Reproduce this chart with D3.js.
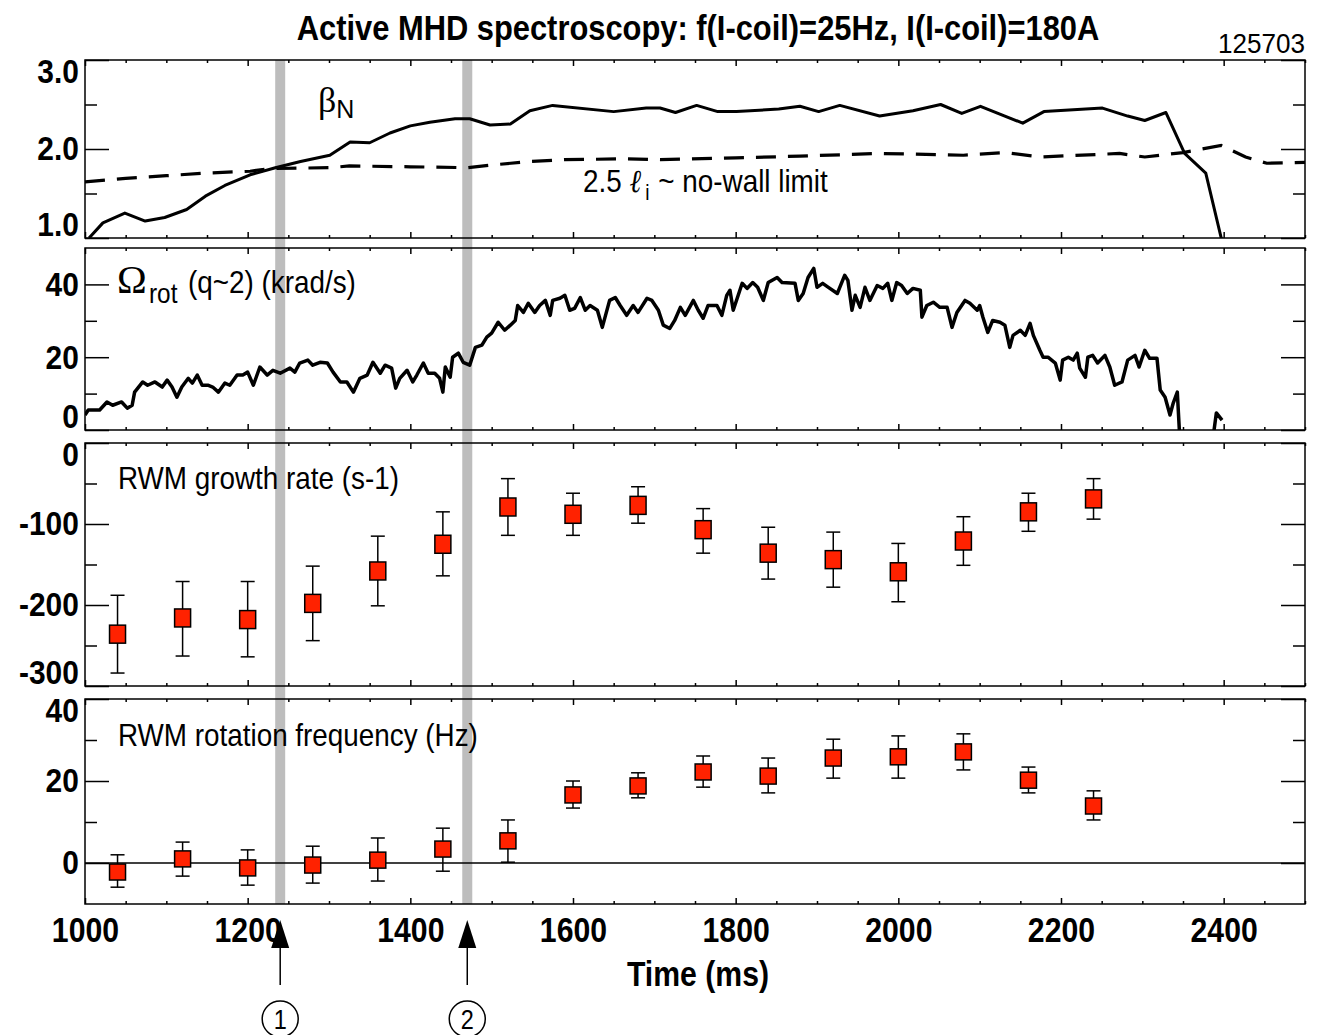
<!DOCTYPE html>
<html>
<head>
<meta charset="utf-8">
<script src="https://cdn.jsdelivr.net/npm/d3@7"></script>
<style>
  body { margin: 0; background: #fff; }
  svg { display: block; }
</style>
</head>
<body>
<div id="chart"></div>
<script>
'use strict';
// ---- data ----
// beta_N (solid) and 2.5 li (dashed), [time ms, value]
var betaN = [[1005,1.00],[1022,1.17],[1049,1.28],[1074,1.19],[1098,1.23],[1125,1.32],[1148,1.47],[1172,1.59],
  [1203,1.71],[1234,1.79],[1265,1.86],[1301,1.93],[1326,2.08],[1350,2.07],[1375,2.18],[1400,2.26],[1424,2.30],
  [1455,2.34],[1473,2.34],[1498,2.27],[1523,2.28],[1547,2.43],[1575,2.49],[1650,2.42],[1690,2.46],[1707,2.46],
  [1726,2.41],[1752,2.49],[1778,2.42],[1801,2.42],[1853,2.45],[1879,2.48],[1902,2.42],[1928,2.49],[1977,2.37],
  [2018,2.43],[2052,2.50],[2078,2.40],[2101,2.48],[2153,2.29],[2179,2.42],[2251,2.46],[2282,2.37],[2303,2.32],
  [2329,2.41],[2352,1.95],[2378,1.73],[2397,1.00],[2400,0.90]];
var noWallLimit = [[1000,1.63],[1050,1.67],[1100,1.70],[1150,1.73],[1203,1.75],[1227,1.78],[1301,1.79],[1325,1.81],
  [1400,1.80],[1470,1.79],[1500,1.82],[1547,1.86],[1589,1.88],[1666,1.89],[1707,1.88],[1800,1.90],[1879,1.92],
  [1977,1.95],[2080,1.93],[2132,1.96],[2174,1.91],[2272,1.95],[2303,1.91],[2350,1.96],[2397,2.04],[2427,1.91],
  [2453,1.84],[2500,1.85]];
// plasma rotation at q~2 (krad/s); null = no data
var omegaRot = [[1000,4.1],[1004,5.5],[1018,5.5],[1027,7.7],[1034,6.8],[1045,7.7],[1052,6.0],[1058,6.8],[1061,10.4],
  [1071,13.2],[1077,12.3],[1086,13.2],[1095,11.8],[1101,13.7],[1107,11.8],[1113,9.0],[1119,11.8],[1127,14.2],
  [1132,12.9],[1138,15.1],[1144,12.3],[1151,12.3],[1157,11.8],[1164,10.4],[1172,12.9],[1178,12.3],[1187,15.1],
  [1194,15.1],[1200,15.9],[1207,12.3],[1215,17.3],[1224,15.1],[1231,16.4],[1240,15.6],[1252,17.0],[1258,15.9],
  [1264,18.4],[1274,19.2],[1280,17.8],[1289,18.6],[1298,18.4],[1305,15.9],[1314,13.2],[1322,13.2],[1330,10.4],
  [1338,14.2],[1347,15.1],[1354,18.6],[1363,15.6],[1369,17.8],[1377,17.0],[1382,11.5],[1387,14.2],[1396,16.4],
  [1403,13.2],[1408,15.1],[1416,18.4],[1422,15.6],[1430,15.6],[1436,14.2],[1440,10.4],[1443,17.3],[1449,14.5],
  [1452,20.0],[1459,21.1],[1465,18.6],[1473,17.8],[1480,22.7],[1488,23.3],[1494,25.5],[1500,26.6],[1508,29.6],
  [1516,27.4],[1523,28.8],[1529,30.1],[1532,34.2],[1539,32.3],[1545,34.8],[1553,32.3],[1559,34.2],[1566,35.6],
  [1572,31.5],[1575,35.6],[1584,36.2],[1590,37.0],[1596,32.9],[1602,33.4],[1609,36.4],[1615,32.9],[1621,34.2],
  [1630,32.9],[1636,28.2],[1645,35.6],[1652,36.4],[1658,34.2],[1666,31.5],[1674,34.2],[1680,32.3],[1691,36.2],
  [1697,35.6],[1705,32.9],[1711,28.8],[1719,27.9],[1725,30.1],[1732,33.7],[1738,31.5],[1748,35.6],[1754,32.9],
  [1760,30.7],[1766,34.2],[1777,34.2],[1783,31.5],[1789,37.0],[1793,38.4],[1797,32.9],[1808,40.3],[1814,38.9],
  [1821,40.5],[1827,39.2],[1834,35.6],[1840,40.5],[1851,41.9],[1857,40.5],[1873,40.3],[1877,35.6],[1883,37.5],
  [1889,41.9],[1896,44.4],[1900,39.2],[1907,40.3],[1914,39.2],[1925,37.5],[1928,39.2],[1934,42.5],[1938,41.1],
  [1943,32.9],[1947,37.0],[1953,33.7],[1959,39.2],[1965,35.6],[1974,39.7],[1981,38.9],[1987,40.3],[1992,35.6],
  [1998,40.5],[2004,39.7],[2011,37.5],[2018,38.9],[2027,38.4],[2029,31.0],[2035,34.2],[2043,35.1],[2051,33.7],
  [2060,33.7],[2066,28.2],[2072,32.3],[2082,35.6],[2088,34.8],[2097,32.9],[2100,34.2],[2104,31.0],[2110,26.8],
  [2116,30.1],[2125,29.6],[2131,28.8],[2137,22.7],[2141,26.0],[2150,27.4],[2156,26.0],[2162,29.3],[2166,26.0],
  [2174,21.9],[2178,20.0],[2184,20.0],[2193,18.4],[2199,13.7],[2202,19.2],[2209,20.0],[2215,19.2],[2220,21.1],
  [2223,17.0],[2230,14.5],[2233,20.0],[2239,20.5],[2245,18.4],[2254,20.5],[2260,17.3],[2266,12.3],[2275,13.2],
  [2282,19.2],[2291,20.5],[2296,17.3],[2303,21.9],[2309,19.7],[2318,19.7],[2322,11.0],[2328,9.0],[2334,4.1],
  [2338,7.4],[2343,10.4],[2346,-2],[2370,null],[2387,-2],[2391,4.7],[2398,2.7]];
// RWM active spectroscopy points
var rwmTime     = [1040,1120,1200,1280,1360,1440,1520,1600,1680,1760,1840,1920,2000,2080,2160,2240];
var growthRate  = [-236,-216,-218,-198,-158,-125,-79,-88,-77,-107,-136,-144,-159,-121,-85,-69];
var growthLow   = [-284,-263,-264,-244,-201,-164,-114,-114,-99,-136,-168,-178,-196,-151,-109,-94];
var growthHigh  = [-188,-171,-171,-152,-115,-85,-44,-62,-54,-81,-104,-110,-124,-91,-62,-44];
var rotFreq     = [-2.2,1.0,-1.2,-0.5,0.7,3.4,5.4,16.6,18.8,22.2,21.2,25.6,25.9,27.1,20.2,13.9];
var rotFreqLow  = [-5.9,-3.2,-5.4,-4.9,-4.4,-2.0,0.2,13.4,15.9,18.5,17.1,20.7,20.7,22.7,17.1,10.5];
var rotFreqHigh = [2.0,5.1,3.2,4.1,6.1,8.5,10.5,20.0,22.0,26.1,25.6,30.2,31.0,31.5,23.4,17.6];
// marked times (grey bands + arrows)
var markTimes  = [1240, 1470];
var markLabels = ['1', '2'];
var timeTicks  = [1000,1200,1400,1600,1800,2000,2200,2400];

// ---- layout ----
var W = 1319, H = 1035;
var SANS = "'Liberation Sans',Arial,sans-serif";
var SERIF = "'Liberation Serif','DejaVu Serif',serif";
var SX = 0.84;   // squeeze to mimic the narrow Helvetica of the original
var SXL = 0.87;  // same for the plain labels
var left = 85, right = 1305;

var svg = d3.select('#chart').append('svg')
    .attr('width', W).attr('height', H)
    .style('font-family', SANS);

var x = d3.scaleLinear().domain([1000, 2500]).range([left, right]);

var intFmt = function(d) { return String(d); };  // plain hyphen for negatives
var panels = [
  {id: 'beta', top: 60, bottom: 238, domain: [1, 3], major: [1, 2, 3], minor: [1.5, 2.5], fmt: d3.format('.1f')},
  {id: 'omega', top: 248, bottom: 430, domain: [0, 50], major: [0, 20, 40], minor: [10, 30], fmt: intFmt},
  {id: 'growth', top: 443, bottom: 686, domain: [-300, 0], major: [-300, -200, -100, 0], minor: [-250, -150, -50], fmt: intFmt},
  {id: 'freq', top: 699, bottom: 904, domain: [-10, 40], major: [0, 20, 40], minor: [10, 30], fmt: intFmt}
];
panels.forEach(function(p) {
  p.y = d3.scaleLinear().domain(p.domain).range([p.bottom, p.top]);
});

// text helper: squeezed horizontally around its anchor point
function label(parent, tx, ty, size, weight, sx) {
  return parent.append('text')
      .attr('transform', 'translate(' + tx + ',' + ty + ') scale(' + (sx || SX) + ',1)')
      .attr('font-family', SANS)
      .attr('font-size', size)
      .attr('font-weight', weight || 'normal')
      .attr('fill', '#000');
}
// squeeze a text so that it spans exactly w pixels
function fitWidth(t, tx, ty, w) {
  var w0 = t.node().getComputedTextLength();
  t.attr('transform', 'translate(' + tx + ',' + ty + ') scale(' + (w / w0) + ',1)');
  return t;
}

// grey bands behind everything
svg.selectAll('.band')
    .data(markTimes)
  .enter().append('rect')
    .attr('x', function(d) { return x(d) - 5; })
    .attr('y', panels[0].top)
    .attr('width', 10)
    .attr('height', panels[3].bottom - panels[0].top)
    .attr('fill', '#bdbdbd');

var minorX = d3.range(1000, 2501, 50).filter(function(d) { return d % 200 !== 0; });
var majorX = d3.range(1000, 2501, 200);

function tickGroup(parent, tr, axis) {
  parent.append('g').attr('transform', tr).call(axis.tickFormat(''));
}

panels.forEach(function(p, i) {
  var g = svg.append('g');
  var ph = p.bottom - p.top;

  svg.append('clipPath').attr('id', 'clip-' + p.id)
    .append('rect').attr('x', left).attr('y', p.top)
    .attr('width', right - left).attr('height', ph);

  // y ticks: left and right, major long / minor short, pointing inward
  tickGroup(g, 'translate(' + left + ',0)', d3.axisLeft(p.y).tickValues(p.major).tickSize(-24));
  tickGroup(g, 'translate(' + left + ',0)', d3.axisLeft(p.y).tickValues(p.minor).tickSize(-12));
  tickGroup(g, 'translate(' + right + ',0)', d3.axisRight(p.y).tickValues(p.major).tickSize(-24));
  tickGroup(g, 'translate(' + right + ',0)', d3.axisRight(p.y).tickValues(p.minor).tickSize(-12));

  // x ticks at top and bottom of each panel
  tickGroup(g, 'translate(0,' + p.top + ')', d3.axisTop(x).tickValues(majorX).tickSize(-6));
  tickGroup(g, 'translate(0,' + p.top + ')', d3.axisTop(x).tickValues(minorX).tickSize(-3));
  tickGroup(g, 'translate(0,' + p.bottom + ')', d3.axisBottom(x).tickValues(majorX).tickSize(-6));
  tickGroup(g, 'translate(0,' + p.bottom + ')', d3.axisBottom(x).tickValues(minorX).tickSize(-3));

  // y tick labels; the end labels are pulled inside the panel
  var yl = g.append('g').attr('transform', 'translate(' + left + ',0)')
      .call(d3.axisLeft(p.y).tickValues(p.major).tickSize(0).tickPadding(7).tickFormat(p.fmt));

  g.selectAll('.domain').remove();
  g.selectAll('.tick line').attr('stroke', '#000').attr('stroke-width', 1.5);

  yl.selectAll('.tick text')
      .attr('font-family', SANS)
      .attr('font-size', 34)
      .attr('font-weight', 'bold')
      .attr('fill', '#000')
      .attr('transform', function(d) {
        var s = 0;
        if (d === p.domain[1]) s = 12;
        if (d === p.domain[0]) s = -13;
        return 'translate(0,' + s + ') scale(0.88,1)';
      });

  // frame
  g.append('rect')
      .attr('x', left).attr('y', p.top)
      .attr('width', right - left).attr('height', ph)
      .attr('fill', 'none').attr('stroke', '#000').attr('stroke-width', 1.5);

  if (i === 3) {
    var xa = svg.append('g').attr('transform', 'translate(0,' + p.bottom + ')')
        .call(d3.axisBottom(x).tickValues(timeTicks).tickSize(0).tickPadding(12).tickFormat(d3.format('d')));
    xa.select('.domain').remove();
    xa.selectAll('text')
        .attr('font-family', SANS).attr('font-size', 36)
        .attr('font-weight', 'bold').attr('fill', '#000')
        .attr('transform', 'scale(' + SX + ',1)');
  }
});

var pB = panels[0], pO = panels[1], pG = panels[2], pF = panels[3];

// ---- panel 1: beta_N and no-wall limit ----
var lineB = d3.line().x(function(d) { return x(d[0]); }).y(function(d) { return pB.y(d[1]); });
var cB = svg.append('g').attr('clip-path', 'url(#clip-beta)');
cB.append('path').datum(noWallLimit)
    .attr('d', lineB).attr('fill', 'none').attr('stroke', '#000')
    .attr('stroke-width', 3.2).attr('stroke-dasharray', '20,12');
cB.append('path').datum(betaN)
    .attr('d', lineB).attr('fill', 'none').attr('stroke', '#000')
    .attr('stroke-width', 3).attr('stroke-linejoin', 'round');

var tb = svg.append('text').attr('x', 318).attr('y', 112).attr('fill', '#000');
tb.append('tspan').attr('font-family', SERIF).attr('font-size', 36).text('β');
tb.append('tspan').attr('font-family', SANS).attr('font-size', 25).attr('dy', 6).text('N');

var tl = label(svg, 583, 192, 32, 'normal', SXL);
tl.append('tspan').text('2.5 ');
tl.append('tspan').attr('font-family', SERIF).attr('font-style', 'italic').text('ℓ');
tl.append('tspan').attr('font-size', 22).attr('dy', 8).attr('dx', 5).text('i');
tl.append('tspan').attr('dy', -8).attr('dx', 10).text('~ no-wall limit');

// ---- panel 2: rotation ----
var lineO = d3.line()
    .defined(function(d) { return d[1] !== null; })
    .x(function(d) { return x(d[0]); })
    .y(function(d) { return pO.y(d[1]); });
svg.append('g').attr('clip-path', 'url(#clip-omega)')
  .append('path').datum(omegaRot)
    .attr('d', lineO).attr('fill', 'none').attr('stroke', '#000')
    .attr('stroke-width', 3.5).attr('stroke-linejoin', 'round');

svg.append('text').attr('x', 117).attr('y', 293).attr('fill', '#000')
    .attr('font-family', SERIF).attr('font-size', 40).text('Ω');
label(svg, 149, 303, 28, 'normal', SXL).text('rot');
label(svg, 188, 293, 32, 'normal', SXL).text('(q~2) (krad/s)');

// ---- panels 3 & 4: error bars + squares ----
function drawPoints(p, vals, lo, hi, boxH) {
  var g = svg.append('g');
  var pts = rwmTime.map(function(t, i) { return {t: t, v: vals[i], lo: lo[i], hi: hi[i]}; });
  var eb = g.selectAll('.eb').data(pts).enter().append('g')
      .attr('stroke', '#000').attr('stroke-width', 1.5);
  eb.append('line')
      .attr('x1', function(d) { return x(d.t); }).attr('x2', function(d) { return x(d.t); })
      .attr('y1', function(d) { return p.y(d.lo); }).attr('y2', function(d) { return p.y(d.hi); });
  eb.append('line')
      .attr('x1', function(d) { return x(d.t) - 7; }).attr('x2', function(d) { return x(d.t) + 7; })
      .attr('y1', function(d) { return p.y(d.lo); }).attr('y2', function(d) { return p.y(d.lo); });
  eb.append('line')
      .attr('x1', function(d) { return x(d.t) - 7; }).attr('x2', function(d) { return x(d.t) + 7; })
      .attr('y1', function(d) { return p.y(d.hi); }).attr('y2', function(d) { return p.y(d.hi); });
  g.selectAll('.sq').data(pts).enter().append('rect')
      .attr('x', function(d) { return x(d.t) - 8; })
      .attr('y', function(d) { return p.y(d.v) - boxH / 2; })
      .attr('width', 16).attr('height', boxH)
      .attr('fill', '#ff2200').attr('stroke', '#000').attr('stroke-width', 1.5);
}

// zero line in the frequency panel
svg.append('line')
    .attr('x1', left).attr('x2', right)
    .attr('y1', pF.y(0)).attr('y2', pF.y(0))
    .attr('stroke', '#000').attr('stroke-width', 1.5);

drawPoints(pG, growthRate, growthLow, growthHigh, 18);
drawPoints(pF, rotFreq, rotFreqLow, rotFreqHigh, 16);

label(svg, 118, 489, 32, 'normal', SXL).text('RWM growth rate (s-1)');
label(svg, 118, 746, 32, 'normal', SXL).text('RWM rotation frequency (Hz)');

// ---- titles ----
var title = label(svg, 0, 0, 36, 'bold', 1).attr('text-anchor', 'middle')
    .text('Active MHD spectroscopy: f(I-coil)=25Hz, I(I-coil)=180A');
fitWidth(title, 698, 40, 803);
var shot = label(svg, 0, 0, 27, 'normal', 1).attr('text-anchor', 'end').text('125703');
fitWidth(shot, right, 53, 87);
label(svg, 698, 986, 36, 'bold').attr('text-anchor', 'middle').text('Time (ms)');

// ---- arrows and circled numbers ----
var ar = svg.selectAll('.arrow').data(markTimes).enter().append('g');
ar.append('line')
    .attr('x1', function(d) { return x(d); }).attr('x2', function(d) { return x(d); })
    .attr('y1', 946).attr('y2', 985)
    .attr('stroke', '#000').attr('stroke-width', 1.5);
ar.append('path')
    .attr('d', function(d) { var cx = x(d); return 'M' + cx + ',920L' + (cx - 9) + ',948L' + (cx + 9) + ',948Z'; })
    .attr('fill', '#000');
ar.append('circle')
    .attr('cx', function(d) { return x(d); }).attr('cy', 1019).attr('r', 18)
    .attr('fill', 'none').attr('stroke', '#000').attr('stroke-width', 1.5);
ar.each(function(d, i) {
  label(d3.select(this), x(d), 1029, 28, 'normal').attr('text-anchor', 'middle').text(markLabels[i]);
});
</script>
</body>
</html>
